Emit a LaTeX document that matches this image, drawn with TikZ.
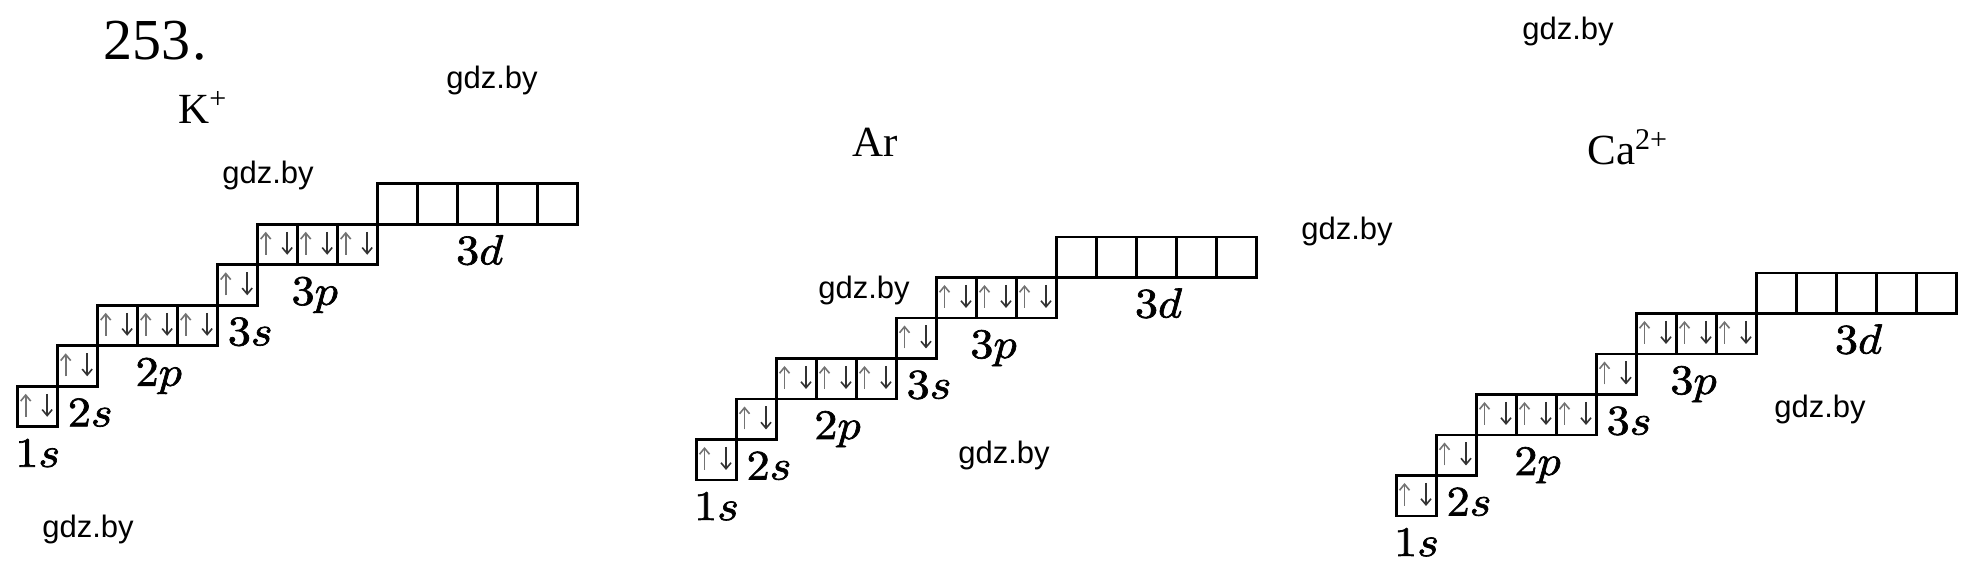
\documentclass[tikz,border=0pt]{standalone}
\usepackage{fontspec}
\newfontfamily\timesf{Liberation Serif}
\newfontfamily\wmfont{Liberation Sans}
\newfontfamily\lblfont[FakeBold=1.6,FakeStretch=1.1]{latinmodern-math.otf}
\usetikzlibrary{arrows.meta,calc}
\tikzset{
  orb/.style={draw, line width=1.35pt, minimum width=20pt, minimum height=20.25pt,
    inner sep=0pt, outer sep=0pt, anchor=south west},
  uparr/.style={draw=black!55, line width=0.8pt, -{Straight Barb[length=3pt,width=5pt]}},
  downarr/.style={draw=black!80, line width=0.8pt, -{Straight Barb[length=3pt,width=5pt]}},
  lbl/.style={anchor=base, inner sep=0pt, font=\lblfont\fontsize{21}{25}\selectfont},
  ion/.style={anchor=base west, inner sep=0pt, font=\timesf\fontsize{21.5}{26}\selectfont},
  wm/.style={inner sep=0pt, font=\wmfont\fontsize{15.5}{18}\selectfont}
}
\newcommand\orbdiagram[3]{%
\begin{scope}[shift={(#2,#3)}]
\node[orb] (#1-1s) at (0,0) {};
\node[orb] (#1-2s) at (40,-40.5) {};
\node[orb] (#1-2pa) at (80,-81) {};
\node[orb] (#1-2pb) at (120,-81) {};
\node[orb] (#1-2pc) at (160,-81) {};
\node[orb] (#1-3s) at (200,-121.5) {};
\node[orb] (#1-3pa) at (240,-162) {};
\node[orb] (#1-3pb) at (280,-162) {};
\node[orb] (#1-3pc) at (320,-162) {};
\node[orb] (#1-3da) at (360,-202.5) {};
\node[orb] (#1-3db) at (400,-202.5) {};
\node[orb] (#1-3dc) at (440,-202.5) {};
\node[orb] (#1-3dd) at (480,-202.5) {};
\node[orb] (#1-3de) at (520,-202.5) {};
\foreach \b in {1s,2s,2pa,2pb,2pc,3s,3pa,3pb,3pc}{
  \draw[uparr] ($(#1-\b.north west)+(8,30.5)$) -- ++(0,-23);
  \draw[downarr] ($(#1-\b.north west)+(29.5,7.5)$) -- ++(0,23);
}
\node[lbl] (#1-l1s) at (20,40) {1𝑠};
\node[lbl] (#1-l2s) at (72.5,-0.5) {2𝑠};
\node[lbl] (#1-l2p) at (141,-41) {2𝑝};
\node[lbl] (#1-l3s) at (232.5,-81.5) {3𝑠};
\node[lbl] (#1-l3p) at (297,-122) {3𝑝};
\node[lbl] (#1-l3d) at (462,-162.5) {3𝑑};
\end{scope}}
\begin{document}
\begin{tikzpicture}[x=0.5pt,y=-0.5pt]
\useasboundingbox (0,0) rectangle (1979,581);
\fill[white] (0,0) rectangle (1979,581);
\node[anchor=base west, inner sep=0pt, font=\timesf\fontsize{29}{34}\selectfont] (num) at (103,60) {253\kern1pt.};
\node[ion] (kion) at (178,124) {K\textsuperscript{+}};
\node[ion] (arion) at (852,157) {Ar};
\node[ion] (caion) at (1587,165) {Ca\textsuperscript{2+}};
\orbdiagram{k}{17.7}{426.8}
\orbdiagram{ar}{696.5}{480}
\orbdiagram{ca}{1396.5}{516}
\node[wm] (wm1) at (492,80) {gdz.by};
\node[wm] (wm2) at (268,175) {gdz.by};
\node[wm] (wm3) at (88,529) {gdz.by};
\node[wm] (wm4) at (1568,31) {gdz.by};
\node[wm] (wm5) at (1347,231) {gdz.by};
\node[wm] (wm6) at (864,290) {gdz.by};
\node[wm] (wm7) at (1004,455) {gdz.by};
\node[wm] (wm8) at (1820,409) {gdz.by};
\end{tikzpicture}
\end{document}
